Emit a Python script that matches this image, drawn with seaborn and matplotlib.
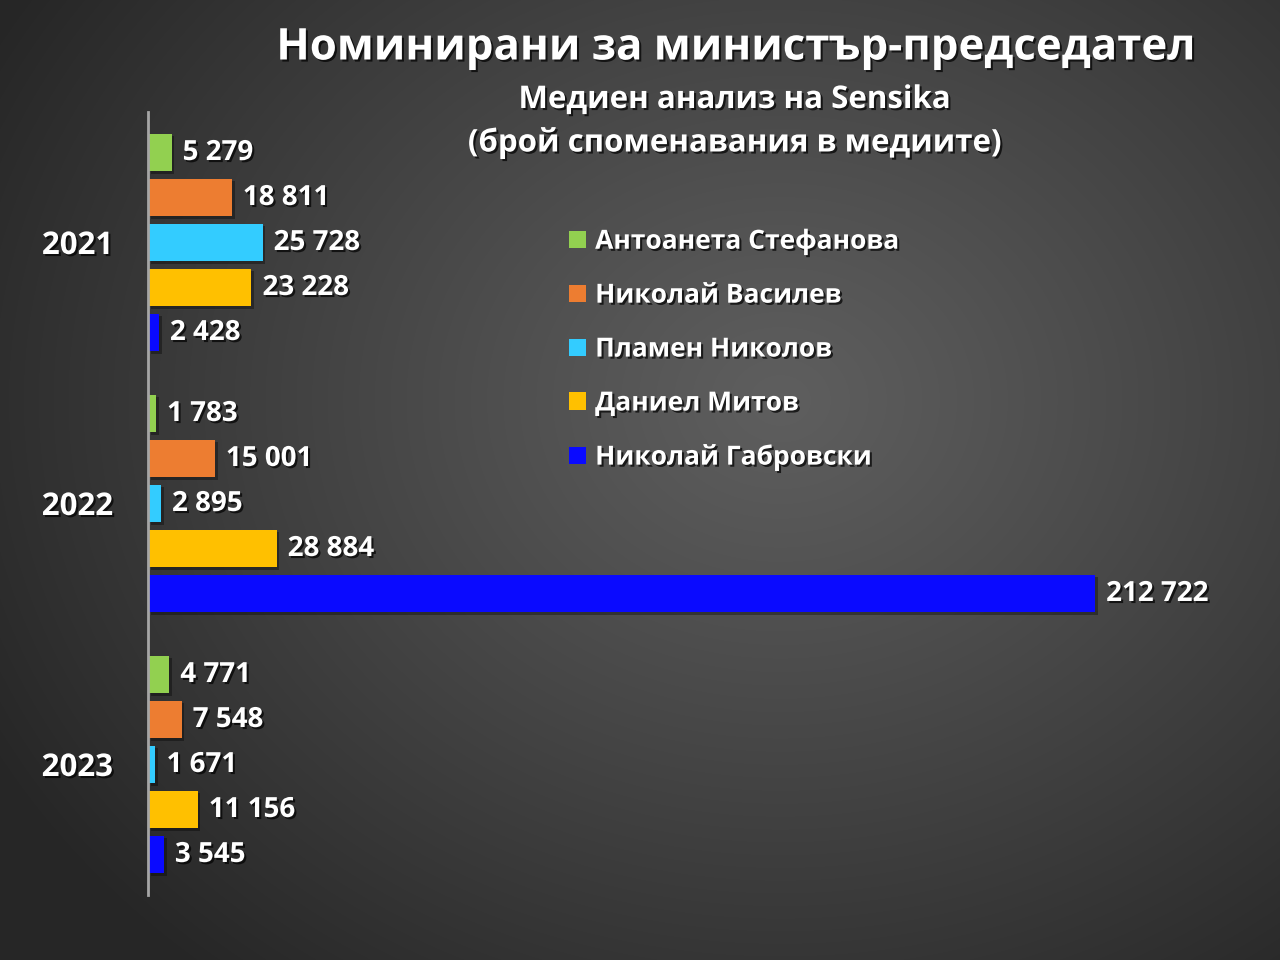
import numpy as np
import pandas as pd
import matplotlib
matplotlib.use("Agg")
import matplotlib.pyplot as plt
import matplotlib.patheffects as pe
import seaborn as sns

years = ["2021", "2022", "2023"]
people = ["Антоанета Стефанова", "Николай Василев", "Пламен Николов",
          "Даниел Митов", "Николай Габровски"]
v_stefanova = [5279, 1783, 4771]
v_vasilev = [18811, 15001, 7548]
v_nikolov = [25728, 2895, 1671]
v_mitov = [23228, 28884, 11156]
v_gabrovski = [2428, 212722, 3545]
colors = ["#92d050", "#ed7d31", "#33ccff", "#ffc000", "#0a0aff"]

title = "Номинирани за министър-председател"
subtitle1 = "Медиен анализ на Sensika"
subtitle2 = "(брой споменавания в медиите)"

rows = []
for person, vals in zip(people, [v_stefanova, v_vasilev, v_nikolov, v_mitov, v_gabrovski]):
    for y, v in zip(years, vals):
        rows.append({"year": y, "person": person, "value": v})
df = pd.DataFrame(rows)

sns.set_theme(style="white")
plt.rcParams['font.family'] = ['Open Sans', 'DejaVu Sans']
plt.rcParams['font.weight'] = 'bold'

fig = plt.figure(figsize=(12.8, 9.6), dpi=100)

# radial gradient background
bg = fig.add_axes([0, 0, 1, 1], zorder=-10)
H, W = 960, 1280
yy, xx = np.mgrid[0:H, 0:W]
cx, cy = 780, 400
d = np.sqrt(((xx - cx) / 900.0) ** 2 + ((yy - cy) / 750.0) ** 2)
d = np.clip(d, 0, 1)
lo, hi = 0.15, 0.37
g = hi - (hi - lo) * d ** 1.1
img = np.dstack([g, g, g])
bg.imshow(img, aspect="auto", extent=[0, 1, 0, 1], origin="upper")
bg.axis("off")

ax = fig.add_axes([148 / 1280, 1 - 895 / 960, (1240 - 148) / 1280, (895 - 112) / 960])
ax.patch.set_alpha(0)

sns.barplot(data=df, y="year", x="value", hue="person", orient="h",
            palette=colors, hue_order=people, order=years,
            width=0.862, gap=0.16, ax=ax, legend=True, saturation=1)

shadow = [pe.SimplePatchShadow(offset=(2, -2), shadow_rgbFace="black", alpha=0.35), pe.Normal()]
txt_shadow = [pe.withSimplePatchShadow(offset=(1.5, -1.5), shadow_rgbFace="black", alpha=0.7)]
for cont in ax.containers:
    for bar in cont:
        bar.set_path_effects(shadow)
        bar.set_linewidth(0)
        bar.set_edgecolor("none")
    labels = ax.bar_label(cont, labels=[f"{int(b.get_width()):,}".replace(",", " ") for b in cont],
                          padding=8, color="white", fontsize=20, fontweight="bold")
    for t in labels:
        t.set_path_effects(txt_shadow)
        t.set_y(t.get_position()[1])

ax.set_xlim(0, 212722 * (1240 - 148) / (1095 - 148))
ax.set_ylim(2.5, -0.5)
ax.set_xlabel("")
ax.set_ylabel("")
ax.set_xticks([])
for s in ["top", "right", "bottom"]:
    ax.spines[s].set_visible(False)
ax.spines["left"].set_color("#a6a6a6")
ax.spines["left"].set_linewidth(2)
ax.tick_params(axis="y", length=0, pad=25, labelsize=22.5, labelcolor="white")
for t in ax.get_yticklabels():
    t.set_fontweight("bold")
    t.set_path_effects(txt_shadow)

leg = ax.legend(loc="upper left", bbox_to_anchor=(545 / 1280, 1 - 204 / 960),
                bbox_transform=fig.transFigure, frameon=False,
                handlelength=0.65, handleheight=0.65, handletextpad=0.35,
                labelspacing=1.02, prop={"size": 19, "weight": "bold"})
for h in leg.legend_handles:
    h.set_edgecolor("none")
    h.set_linewidth(0)
for t in leg.get_texts():
    t.set_color("white")
    t.set_path_effects(txt_shadow)

fig.text(735 / 1280, 1 - 48 / 960, title, ha="center", va="center", color="white",
         fontsize=31.5, fontweight="bold", path_effects=txt_shadow)
fig.text(735 / 1280, 1 - 100 / 960, subtitle1, ha="center", va="center", color="white",
         fontsize=22.5, fontweight="bold", path_effects=txt_shadow)
fig.text(735 / 1280, 1 - 143 / 960, subtitle2, ha="center", va="center", color="white",
         fontsize=22.5, fontweight="bold", path_effects=txt_shadow)

fig.savefig("out.png", dpi=100)
